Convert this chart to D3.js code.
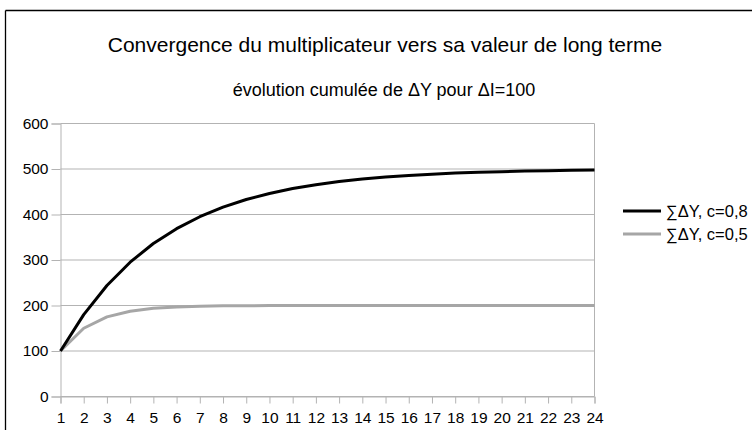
<!DOCTYPE html>
<html>
<head>
<meta charset="utf-8">
<script src="https://cdn.jsdelivr.net/npm/d3@7"></script>
<style>
  html, body { margin: 0; padding: 0; background: #fff; }
  svg { display: block; font-family: "Liberation Sans", Arial, sans-serif; }
</style>
</head>
<body>
<svg id="chart" width="752" height="430"></svg>
<script>
// Périodes 1..24
const periods = d3.range(1, 25);

// Cumul de ΔY pour ΔI = 100
const sumC08 = [100, 180, 244, 295.2, 336.2, 368.9, 395.1, 416.1, 432.9, 446.3, 457.1, 465.6,
                472.5, 478.0, 482.4, 485.9, 488.7, 491.0, 492.8, 494.2, 495.4, 496.3, 497.0, 497.6];
const sumC05 = [100, 150, 175, 187.5, 193.8, 196.9, 198.4, 199.2, 199.6, 199.8, 199.9, 200,
                200, 200, 200, 200, 200, 200, 200, 200, 200, 200, 200, 200];

const seriesNames = ["∑ΔY, c=0,8", "∑ΔY, c=0,5"];
const yTicks = [0, 100, 200, 300, 400, 500, 600];

const series = [
  { name: seriesNames[0], values: sumC08, color: "#000000" },
  { name: seriesNames[1], values: sumC05, color: "#a6a6a6" }
];

const svg = d3.select("#chart");

// Cadre extérieur (haut et gauche)
svg.append("line").attr("x1", 5.5).attr("x2", 752).attr("y1", 10.5).attr("y2", 10.5)
  .attr("stroke", "#000").attr("stroke-width", 1.3);
svg.append("line").attr("x1", 5.5).attr("x2", 5.5).attr("y1", 10.5).attr("y2", 430)
  .attr("stroke", "#000").attr("stroke-width", 1.3);

// Titres
svg.append("text").attr("x", 385).attr("y", 52).attr("text-anchor", "middle")
  .attr("font-size", 21).attr("fill", "#000")
  .text("Convergence du multiplicateur vers sa valeur de long terme");
svg.append("text").attr("x", 384).attr("y", 96).attr("text-anchor", "middle")
  .attr("font-size", 18).attr("fill", "#000")
  .text("évolution cumulée de ΔY pour ΔI=100");

const x = d3.scaleLinear().domain([1, 24]).range([60.5, 594.5]);
const y = d3.scaleLinear().domain([0, 600]).range([396.5, 123.5]);

// Grille horizontale
svg.append("g").selectAll("line").data(yTicks).join("line")
  .attr("x1", x.range()[0]).attr("x2", x.range()[1])
  .attr("y1", d => y(d)).attr("y2", d => y(d))
  .attr("stroke", "#b3b3b3").attr("stroke-width", 1);

// Bord droit de la zone de tracé
svg.append("line").attr("x1", x.range()[1]).attr("x2", x.range()[1])
  .attr("y1", y(600)).attr("y2", y(0))
  .attr("stroke", "#b3b3b3");

// Axe Y
const yAxis = svg.append("g").attr("transform", `translate(${x.range()[0]},0)`)
  .call(d3.axisLeft(y).tickValues(yTicks).tickSize(9).tickPadding(3).tickFormat(d3.format("d")));
yAxis.select(".domain").attr("stroke", "#b3b3b3");
yAxis.selectAll(".tick line").attr("stroke", "#b3b3b3");
yAxis.selectAll("text").attr("font-size", 15.5).attr("fill", "#000")
  .attr("font-family", "'Liberation Sans', Arial, sans-serif");

// Axe X
const xAxis = svg.append("g").attr("transform", `translate(0,${y(0)})`)
  .call(d3.axisBottom(x).tickValues(periods).tickSize(7).tickPadding(8).tickFormat(d3.format("d")));
xAxis.select(".domain").attr("stroke", "#b3b3b3");
xAxis.selectAll(".tick line").attr("stroke", "#b3b3b3");
xAxis.selectAll("text").attr("font-size", 15.5).attr("fill", "#000")
  .attr("font-family", "'Liberation Sans', Arial, sans-serif");

// Courbes (la grise sous la noire)
const line = d3.line().x((d, i) => x(periods[i])).y(d => y(d));
svg.append("g").selectAll("path").data(series.slice().reverse()).join("path")
  .attr("d", d => line(d.values))
  .attr("fill", "none")
  .attr("stroke", d => d.color)
  .attr("stroke-width", 3)
  .attr("stroke-linejoin", "round");

// Légende
const legend = svg.append("g").selectAll("g").data(series).join("g")
  .attr("transform", (d, i) => `translate(623,${211 + i * 23})`);
legend.append("line").attr("x1", 0).attr("x2", 38).attr("y1", 0).attr("y2", 0)
  .attr("stroke", d => d.color).attr("stroke-width", 3);
legend.append("text").attr("x", 43).attr("y", 6)
  .attr("font-size", 16.5).attr("fill", "#000")
  .text(d => d.name);
</script>
</body>
</html>
